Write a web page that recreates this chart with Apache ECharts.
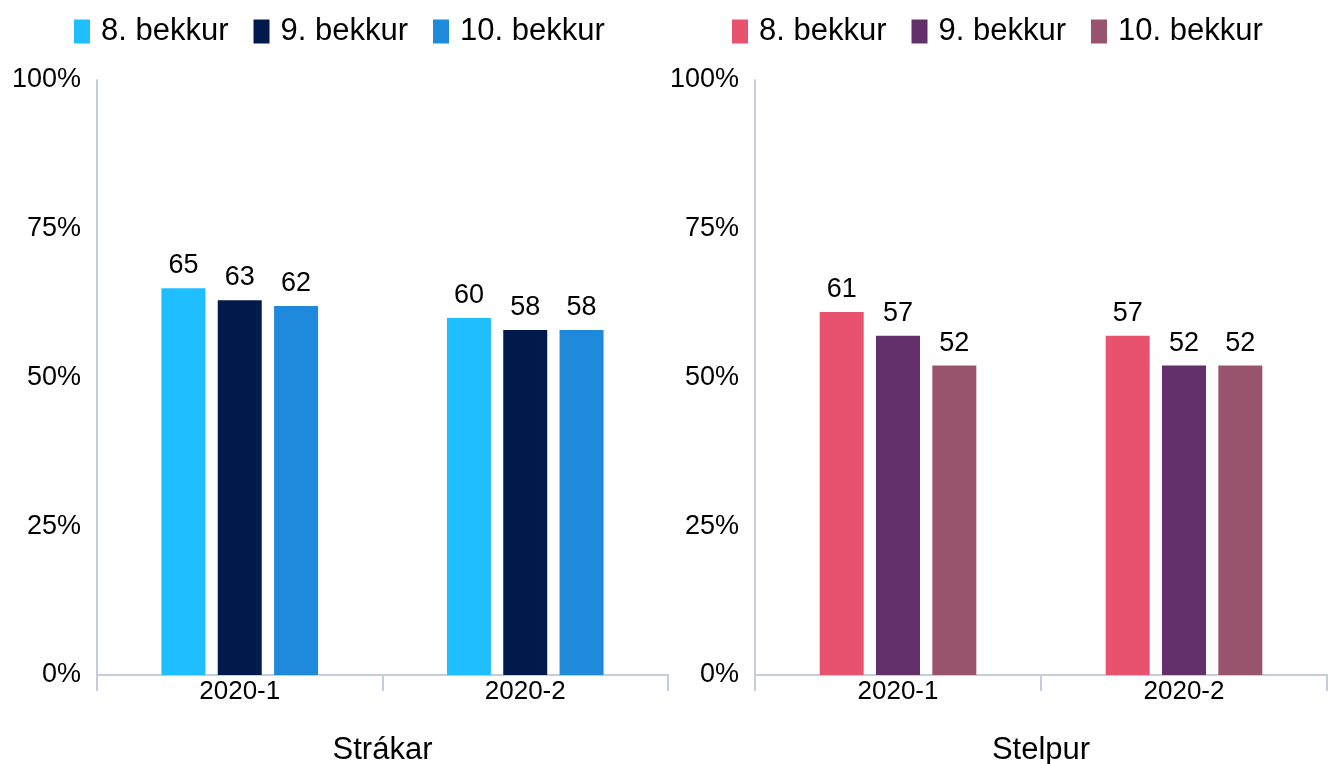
<!DOCTYPE html>
<html>
<head>
<meta charset="utf-8">
<script src="https://cdn.jsdelivr.net/npm/echarts@6/dist/echarts.min.js"></script>
<style>
  html, body { margin: 0; padding: 0; background: #fff; }
  #chartWrapper { width: 1334px; height: 764px; }
</style>
</head>
<body>
<div id="chartWrapper"></div>
<script>
const categories = ["2020-1", "2020-2"] // X軸
const grades = ["8. bekkur", "9. bekkur", "10. bekkur"]
const groupNames = ["Strákar", "Stelpur"]
const yTicks = [0, 25, 50, 75, 100]

// Strákar
const boys8 = [65, 60]
const boys9 = [63, 58]
const boys10 = [62, 58]
// Stelpur
const girls8 = [61, 57]
const girls9 = [57, 52]
const girls10 = [52, 52]

const boysColors = ["#1FBEFE", "#001A4B", "#1F8ADC"]
const girlsColors = ["#E9526F", "#63306B", "#98546E"]

const axisColor = "#C2CEDD"
const fontFamily = "'Liberation Sans', Arial, sans-serif"

const myChart = echarts.init(document.getElementById("chartWrapper"))

function makeSeries(prefix, dataList, colors, index) {
	return dataList.map((data, i) => ({
		name: prefix + "|" + grades[i],
		type: "bar",
		xAxisIndex: index,
		yAxisIndex: index,
		barWidth: 44,
		barGap: "28%",
		itemStyle: { color: colors[i] },
		label: {
			show: true,
			position: "top",
			distance: 9,
			fontSize: 27,
			color: "#000",
			fontFamily: fontFamily
		},
		data: data
	}))
}

function makeLegend(prefix, left) {
	return {
		left: left,
		top: 11,
		icon: "rect",
		itemWidth: 16,
		itemHeight: 24,
		itemGap: 25,
		textStyle: { fontSize: 31, color: "#000", fontFamily: fontFamily, padding: [0, 0, 0, 6] },
		data: grades.map(g => prefix + "|" + g),
		formatter: name => name.split("|")[1]
	}
}

function makeXAxis(index) {
	return {
		type: "category",
		gridIndex: index,
		data: categories,
		name: groupNames[index],
		nameLocation: "middle",
		nameGap: 60,
		nameTextStyle: { fontSize: 31, color: "#000", fontFamily: fontFamily },
		axisLine: { lineStyle: { color: axisColor, width: 2 } },
		axisTick: { show: true, length: 16, lineStyle: { color: axisColor, width: 2 } },
		axisLabel: { fontSize: 26, color: "#000", margin: 4, fontFamily: fontFamily }
	}
}

function makeYAxis(index) {
	return {
		type: "value",
		gridIndex: index,
		min: yTicks[0],
		max: yTicks[yTicks.length - 1],
		interval: 25,
		axisLine: { show: true, lineStyle: { color: axisColor, width: 2 } },
		axisTick: { show: false },
		splitLine: { show: false },
		axisLabel: { fontSize: 27, color: "#000", margin: 16, fontFamily: fontFamily, formatter: "{value}%" }
	}
}

const option = {
	animation: false,
	backgroundColor: "#fff",
	textStyle: { fontFamily: fontFamily },
	legend: [makeLegend("B", 69), makeLegend("G", 727)],
	grid: [
		{ left: 97, top: 80, width: 571, height: 595, outerBoundsMode: "none" },
		{ left: 755, top: 80, width: 572, height: 595, outerBoundsMode: "none" }
	],
	xAxis: [makeXAxis(0), makeXAxis(1)],
	yAxis: [makeYAxis(0), makeYAxis(1)],
	series: [
		...makeSeries("B", [boys8, boys9, boys10], boysColors, 0),
		...makeSeries("G", [girls8, girls9, girls10], girlsColors, 1)
	]
}

myChart.setOption(option)
</script>
</body>
</html>
